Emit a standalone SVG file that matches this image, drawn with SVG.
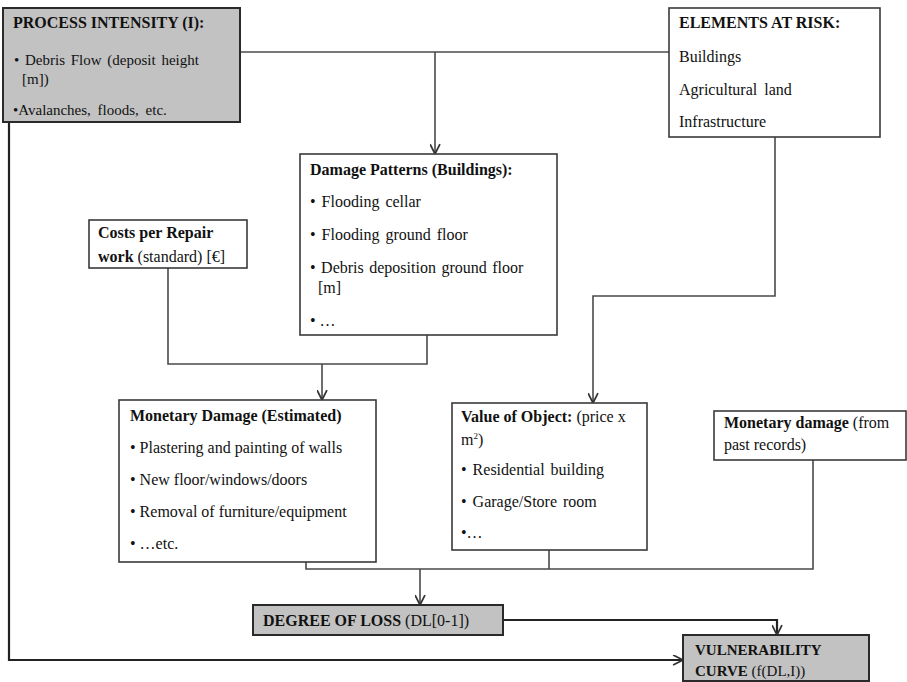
<svg xmlns="http://www.w3.org/2000/svg" width="907" height="682" viewBox="0 0 907 682">
<defs>
<style>
.box{fill:#ffffff;stroke:#3a3a3a;stroke-width:1.6}
.gray{fill:#c2c2c2;stroke:#2a2a2a;stroke-width:2}
.t{font-family:"Liberation Serif","Times New Roman",serif;font-size:16px;fill:#111}
.s{font-size:15px}
.b{font-weight:bold}
.ln{fill:none;stroke:#4a4a4a;stroke-width:1.6}
.lnk{fill:none;stroke:#222;stroke-width:2.2}
</style>
<marker id="arr" viewBox="0 0 10 10" refX="10" refY="5" markerUnits="userSpaceOnUse" markerWidth="11" markerHeight="11" orient="auto">
<path d="M1,0.5 L10,5 L1,9.5" fill="none" stroke="#333" stroke-width="1.6"/>
</marker>
</defs>
<rect width="907" height="682" fill="#ffffff"/>
<g id="connectors">
<path class="ln" d="M240,52 H669"/>
<path class="ln" d="M435,52 V154" marker-end="url(#arr)"/>
<path class="ln" d="M775,137 V296 H593 V403" marker-end="url(#arr)"/>
<path class="ln" d="M168,268 V364 H427 V335"/>
<path class="ln" d="M322,364 V400" marker-end="url(#arr)"/>
<path class="ln" d="M306,562 V569 H813 V460"/>
<path class="ln" d="M549,550 V569"/>
<path class="ln" d="M420,569 V605" marker-end="url(#arr)"/>
<path class="lnk" d="M503,620 H777 V635" marker-end="url(#arr)"/>
<path class="lnk" d="M9,122 V660 H683" marker-end="url(#arr)"/>
</g>
<g id="process-intensity">
<rect class="gray" x="3" y="8" width="237" height="114"/>
<text class="t b" x="13" y="28">PROCESS INTENSITY (I):</text>
<text class="t s" x="14" y="65" word-spacing="2">• Debris Flow (deposit height</text>
<text class="t s" x="22" y="84">[m])</text>
<text class="t s" x="13" y="115" word-spacing="3">•Avalanches, floods, etc.</text>
</g>
<g id="elements-at-risk">
<rect class="box" x="669" y="8" width="211" height="129"/>
<text class="t b" x="679" y="28">ELEMENTS AT RISK:</text>
<text class="t" x="679" y="62">Buildings</text>
<text class="t" x="679" y="95" word-spacing="3">Agricultural land</text>
<text class="t" x="679" y="127">Infrastructure</text>
</g>
<g id="damage-patterns">
<rect class="box" x="300" y="154" width="257" height="181"/>
<text class="t b" x="310" y="175">Damage Patterns (Buildings):</text>
<text class="t" x="310" y="207" word-spacing="2">• Flooding cellar</text>
<text class="t" x="310" y="240" word-spacing="2">• Flooding ground floor</text>
<text class="t" x="310" y="273" word-spacing="1.5">• Debris deposition ground floor</text>
<text class="t" x="318" y="293">[m]</text>
<text class="t" x="310" y="326">• …</text>
</g>
<g id="costs-repair">
<rect class="box" x="89" y="220" width="158" height="48"/>
<text class="t b" x="98" y="238">Costs per Repair</text>
<text class="t" x="98" y="262"><tspan class="b">work</tspan> (standard) [€]</text>
</g>
<g id="monetary-estimated">
<rect class="box" x="119" y="400" width="257" height="162"/>
<text class="t b" x="130" y="421">Monetary Damage (Estimated)</text>
<text class="t" x="130" y="453">• Plastering and painting of walls</text>
<text class="t" x="130" y="485">• New floor/windows/doors</text>
<text class="t" x="130" y="517">• Removal of furniture/equipment</text>
<text class="t" x="130" y="549">• …etc.</text>
</g>
<g id="value-object">
<rect class="box" x="452" y="403" width="195" height="147"/>
<text class="t" x="461" y="422"><tspan class="b">Value of Object:</tspan>  (price x</text>
<text class="t" x="461" y="445">m<tspan font-size="9" dy="-6">2</tspan><tspan dy="6">)</tspan></text>
<text class="t" x="461" y="475" word-spacing="2">• Residential building</text>
<text class="t" x="461" y="507" word-spacing="2">• Garage/Store room</text>
<text class="t" x="461" y="538">•…</text>
</g>
<g id="monetary-past">
<rect class="box" x="714" y="411" width="192" height="49"/>
<text class="t" x="724" y="428"><tspan class="b">Monetary damage</tspan> (from</text>
<text class="t" x="724" y="450">past records)</text>
</g>
<g id="degree-of-loss">
<rect class="gray" x="253" y="605" width="250" height="30"/>
<text class="t" x="263" y="626"><tspan class="b">DEGREE OF LOSS</tspan> (DL[0-1])</text>
</g>
<g id="vulnerability-curve">
<rect class="gray" x="683" y="635" width="186" height="46"/>
<text class="t s b" x="695" y="655">VULNERABILITY</text>
<text class="t s" x="695" y="676"><tspan class="b">CURVE</tspan>  (f(DL,I))</text>
</g>
</svg>
